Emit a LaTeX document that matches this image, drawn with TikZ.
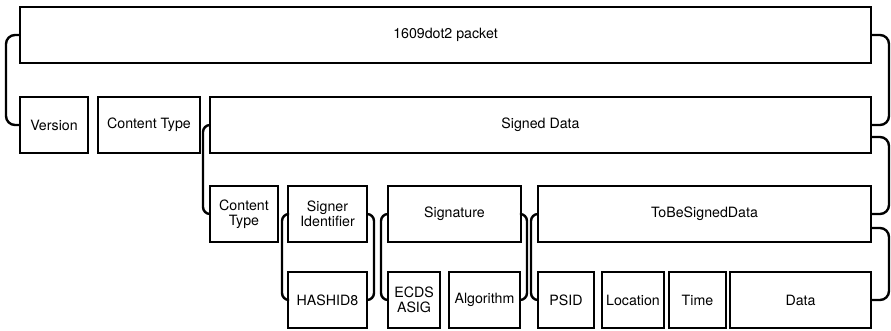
\documentclass[tikz,border=0pt]{standalone}
\usepackage{fontspec}
\setmainfont{TeX Gyre Heros}
\usetikzlibrary{calc}
\begin{document}
\begin{tikzpicture}[x=1pt,y=-1pt,
  field/.style={draw, line width=2pt, anchor=north west, align=center,
    inner sep=0pt, outer sep=0pt, minimum height=56pt,
    font=\fontsize{14.2}{15.5}\selectfont},
  brace/.style={line width=2.4pt, rounded corners=7pt}]
\useasboundingbox (0,0) rectangle (891,331);
% level 0
\node[field, minimum width=851pt] (pkt) at (20,7) {1609dot2 packet};
% level 1
\node[field, minimum width=68pt]  (ver) at (20,97)  {Version};
\node[field, minimum width=102pt] (ct1) at (98,97)  {Content Type};
\node[field, minimum width=661pt] (sd)  at (210,97) {Signed Data};
% level 2
\node[field, minimum width=68pt]  (ct2)  at (210,186) {Content\\Type};
\node[field, minimum width=79pt]  (sid)  at (288,186) {Signer\\Identifier};
\node[field, minimum width=133pt] (sig)  at (388,186) {Signature};
\node[field, minimum width=333pt] (tbsd) at (538,186) {ToBeSignedData};
% level 3
\node[field, minimum width=79pt]  (hash) at (288,272) {HASHID8};
\node[field, minimum width=52pt]  (ecds) at (388,272) {ECDS\\ASIG};
\node[field, minimum width=71pt]  (alg)  at (449,272) {Algorithm};
\node[field, minimum width=56pt]  (psid) at (538,272) {PSID};
\node[field, minimum width=62pt]  (loc)  at (602,272) {Location};
\node[field, minimum width=57pt]  (time) at (669,272) {Time};
\node[field, minimum width=141pt] (data) at (730,272) {Data};
% braces joining a field to its contents
\draw[brace, rounded corners=9pt] (pkt.west) -- ++(-14,0) |- (ver.west);
\draw[brace, rounded corners=9pt] (pkt.east) -- ++(18,0) |- (sd.east);
\draw[brace] (sd.west) -- ++(-7,0) |- (ct2.west);
\draw[brace, rounded corners=9pt] ($(sd.east)+(0,12)$) -- ++(18,0) |- (tbsd.east);
\draw[brace, rounded corners=9pt] ($(tbsd.east)+(0,14)$) -- ++(18,0) |- (data.east);
\draw[brace] (sid.west) -- ++(-6,0) |- (hash.west);
\draw[brace] (sid.east) -- ++(7,0) |- (hash.east);
\draw[brace] (sig.west) -- ++(-7,0) |- (ecds.west);
\draw[brace] (sig.east) -- ++(6,0) |- (alg.east);
\draw[brace] (tbsd.west) -- ++(-7,0) |- (psid.west);
\end{tikzpicture}
\end{document}
